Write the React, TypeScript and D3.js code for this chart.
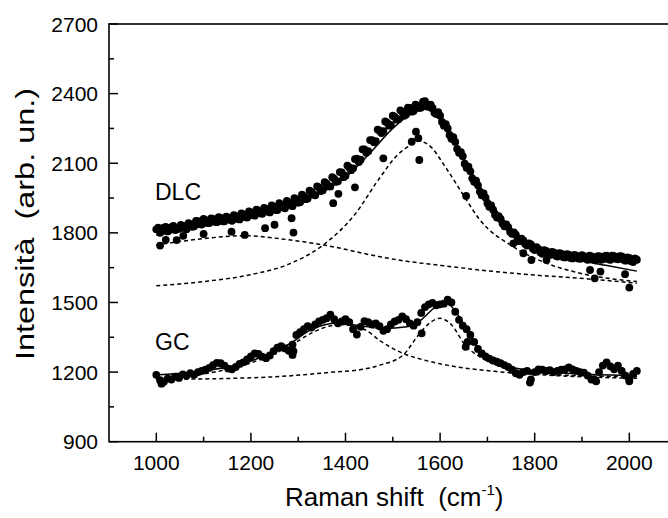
import React from "react";
import * as d3 from "d3";

// ---- Data ----
const xStart = 1000;
const xStep = 8;

// DLC, first pass of points (x = 1000 + 8i)
const dlcValues = [
  1815, 1800, 1822, 1806, 1825, 1812, 1818, 1830, 1815, 1838, 1828, 1850, 1836, 1855, 1842, 1860,
  1846, 1864, 1850, 1866, 1852, 1872, 1858, 1880, 1866, 1888, 1874, 1895, 1882, 1903, 1888, 1912,
  1898, 1922, 1906, 1930, 1915, 1945, 1932, 1958, 1948, 1975, 1962, 1995, 1984, 2012, 2000, 2034,
  2022, 2060, 2046, 2082, 2078, 2120, 2115, 2160, 2152, 2200, 2195, 2240, 2238, 2275, 2265, 2300,
  2290, 2322, 2310, 2338, 2325, 2348, 2340, 2368, 2350, 2338, 2312, 2305, 2262, 2250, 2205, 2192,
  2145, 2130, 2080, 2065, 2020, 2005, 1962, 1952, 1912, 1900, 1866, 1860, 1828, 1825, 1796, 1792,
  1764, 1768, 1745, 1750, 1726, 1730, 1710, 1722, 1705, 1716, 1698, 1710, 1694, 1706, 1690, 1702,
  1688, 1700, 1684, 1698, 1682, 1700, 1686, 1702, 1684, 1700, 1686, 1698, 1680, 1692, 1674, 1684,
];

// DLC, second pass of points (x = 1004 + 8i)
const dlcValues2 = [
  1822, 1808, 1826, 1812, 1830, 1815, 1834, 1820, 1842, 1826, 1852, 1838, 1860, 1842, 1862, 1848,
  1868, 1850, 1870, 1856, 1876, 1860, 1884, 1868, 1892, 1876, 1900, 1884, 1908, 1892, 1918, 1898,
  1928, 1910, 1938, 1920, 1950, 1930, 1965, 1945, 1982, 1965, 2000, 1980, 2018, 2000, 2040, 2020,
  2062, 2040, 2090, 2070, 2118, 2105, 2160, 2145, 2200, 2190, 2245, 2230, 2280, 2262, 2305, 2288,
  2328, 2305, 2340, 2322, 2352, 2338, 2365, 2345, 2352, 2318, 2320, 2278, 2268, 2222, 2212, 2162,
  2148, 2098, 2085, 2035, 2025, 1978, 1970, 1928, 1918, 1878, 1872, 1840, 1836, 1805, 1802, 1776,
  1775, 1752, 1755, 1733, 1738, 1716, 1725, 1708, 1718, 1702, 1712, 1696, 1708, 1692, 1705, 1690,
  1704, 1688, 1702, 1686, 1698, 1684, 1700, 1686, 1702, 1688, 1700, 1684, 1694, 1678, 1690,
];

const dlcOutliers: [number, number][] = [
  [1008, 1745], [1020, 1770], [1043, 1769], [1057, 1787], [1100, 1795], [1159, 1805], [1187, 1791],
  [1230, 1820], [1250, 1835], [1286, 1863], [1290, 1801], [1374, 1928], [1385, 1968], [1420, 1996],
  [1480, 2121], [1540, 2193], [1549, 2236], [1554, 2208], [1556, 2114], [1655, 1959], [1755, 1755],
  [1776, 1712], [1793, 1683], [1825, 1683], [1917, 1640], [1927, 1604], [1939, 1633], [1991, 1622],
  [2000, 1564],
];

// GC points (x = 1000 + 8i)
const gcValues = [
  1188, 1165, 1158, 1172, 1168, 1180, 1175, 1190, 1185, 1195, 1188, 1200, 1205, 1210, 1218, 1230,
  1240, 1238, 1228, 1215, 1212, 1222, 1235, 1242, 1255, 1268, 1280, 1278, 1266, 1260, 1272, 1290,
  1305, 1312, 1302, 1292, 1318, 1360, 1372, 1385, 1398, 1392, 1405, 1418, 1425, 1432, 1448, 1428,
  1410, 1418, 1428, 1415, 1385, 1362, 1395, 1420, 1415, 1405, 1410, 1398, 1378, 1385, 1405, 1418,
  1425, 1440, 1428, 1410, 1400, 1415, 1455, 1480, 1492, 1498, 1488, 1492, 1495, 1512, 1500, 1460,
  1425, 1400, 1385, 1360, 1330, 1300, 1280, 1268, 1258, 1250, 1245, 1238, 1230, 1222, 1210, 1195,
  1188, 1200, 1205, 1168, 1200, 1212, 1210, 1205, 1208, 1200, 1205, 1210, 1212, 1220, 1212, 1205,
  1200, 1198, 1185, 1168, 1165, 1200, 1228, 1242, 1225, 1212, 1228, 1205, 1185, 1168, 1192, 1205,
];

const gcOutliers: [number, number][] = [
  [1011, 1150], [1288, 1274], [1290, 1290], [1561, 1367], [1654, 1309], [1658, 1330],
  [1790, 1155], [1930, 1160], [2000, 1160],
];

const dlcFit: [number, number][] = [
  [1000, 1790], [1100, 1830], [1200, 1870], [1300, 1930], [1350, 1975], [1400, 2040], [1450, 2140],
  [1500, 2250], [1540, 2315], [1565, 2335], [1590, 2310], [1620, 2230], [1650, 2120], [1700, 1950],
  [1750, 1820], [1800, 1745], [1850, 1705], [1900, 1680], [1950, 1660], [2016, 1635],
];
const dlcBroad: [number, number][] = [
  [1000, 1748], [1100, 1775], [1184, 1788], [1260, 1775], [1353, 1748], [1473, 1697], [1512, 1683],
  [1600, 1660], [1684, 1640], [1800, 1618], [1896, 1604], [2016, 1583],
];
const dlcPeak: [number, number][] = [
  [1000, 1572], [1100, 1590], [1200, 1620], [1280, 1665], [1353, 1748], [1420, 1880], [1470, 2030],
  [1512, 2140], [1540, 2180], [1555, 2195], [1575, 2180], [1614, 2075], [1650, 1960], [1684, 1856],
  [1754, 1741], [1825, 1669], [1896, 1626], [2016, 1590],
];

const gcFit: [number, number][] = [
  [1000, 1188], [1100, 1205], [1200, 1248], [1280, 1320], [1330, 1385], [1380, 1410], [1430, 1400],
  [1480, 1388], [1530, 1395], [1560, 1425], [1590, 1480], [1615, 1495], [1640, 1440], [1670, 1330],
  [1700, 1265], [1750, 1222], [1800, 1205], [1900, 1192], [2016, 1185],
];
const gcD: [number, number][] = [
  [1000, 1170], [1100, 1192], [1200, 1240], [1280, 1310], [1330, 1370], [1370, 1400], [1400, 1405],
  [1425, 1395], [1445, 1378], [1473, 1335], [1522, 1280], [1570, 1250], [1614, 1230], [1720, 1202],
  [1825, 1187], [2016, 1173],
];
const gcG: [number, number][] = [
  [1000, 1168], [1233, 1178], [1374, 1200], [1445, 1215], [1473, 1230], [1522, 1274], [1557, 1367],
  [1580, 1415], [1600, 1432], [1621, 1410], [1656, 1309], [1684, 1266], [1755, 1209], [1861, 1187],
  [2016, 1180],
];

const xMajorTicks = [1000, 1200, 1400, 1600, 1800, 2000];
const xMinorTicks = [1100, 1300, 1500, 1700, 1900];
const yMajorTicks = [900, 1200, 1500, 1800, 2100, 2400, 2700];
const yMinorTicks = [1050, 1350, 1650, 1950, 2250, 2550];

// ---- Layout ----
const W = 668;
const H = 518;
const left = 109;
const top = 24;
const bottom = 441.7;
const right = 676.6;

const x = d3.scaleLinear().domain([900, 2100]).range([left, right]);
const y = d3.scaleLinear().domain([900, 2700]).range([bottom, top]);

const line = d3
  .line<[number, number]>()
  .x((d) => x(d[0]))
  .y((d) => y(d[1]))
  .curve(d3.curveMonotoneX);

const font = "'Liberation Sans', Arial, Helvetica, sans-serif";

export default function App() {
  const dlcPts = dlcValues.map((v, i) => [xStart + i * xStep, v] as [number, number]);
  const dlcPts2 = dlcValues2.map((v, i) => [xStart + 4 + i * xStep, v] as [number, number]);
  const gcPts = gcValues.map((v, i) => [xStart + i * xStep, v] as [number, number]);
  const dotR = 3.9;

  return (
    <svg
      width={W}
      height={H}
      style={{ position: "absolute", left: 0, top: 0, background: "#fff" }}
      fontFamily={font}
    >
      <rect x={0} y={0} width={W} height={H} fill="#fff" />
      {/* dashed components */}
      {[dlcBroad, dlcPeak, gcD, gcG].map((s, i) => (
        <path key={"d" + i} d={line(s) || ""} fill="none" stroke="#000" strokeWidth={1.5} strokeDasharray="4,3" />
      ))}
      {/* data dots */}
      {[...dlcPts, ...dlcPts2, ...dlcOutliers, ...gcPts, ...gcOutliers].map((p, i) => (
        <circle key={"p" + i} cx={x(p[0])} cy={y(p[1])} r={dotR} fill="#000" />
      ))}
      {/* fits */}
      {[dlcFit, gcFit].map((s, i) => (
        <path key={"f" + i} d={line(s) || ""} fill="none" stroke="#000" strokeWidth={1.5} />
      ))}

      {/* frame */}
      <rect x={left} y={top} width={right - left} height={bottom - top} fill="none" stroke="#000" strokeWidth={1.6} />

      {/* x ticks */}
      {xMajorTicks.map((t) => (
        <g key={"xt" + t}>
          <line x1={x(t)} x2={x(t)} y1={bottom} y2={bottom - 9} stroke="#000" strokeWidth={1.5} />
          <text x={x(t)} y={470} textAnchor="middle" fontSize={21}>
            {t}
          </text>
        </g>
      ))}
      {xMinorTicks.map((t) => (
        <line key={"xm" + t} x1={x(t)} x2={x(t)} y1={bottom} y2={bottom - 5} stroke="#000" strokeWidth={1.5} />
      ))}
      {/* y ticks */}
      {yMajorTicks.map((t) => (
        <g key={"yt" + t}>
          <line x1={left} x2={left + 9} y1={y(t)} y2={y(t)} stroke="#000" strokeWidth={1.5} />
          <text x={98} y={y(t) + 7.5} textAnchor="end" fontSize={21}>
            {t}
          </text>
        </g>
      ))}
      {yMinorTicks.map((t) => (
        <line key={"ym" + t} x1={left} x2={left + 5} y1={y(t)} y2={y(t)} stroke="#000" strokeWidth={1.5} />
      ))}

      {/* labels */}
      <text x={155} y={200} fontSize={23}>DLC</text>
      <text x={155} y={350} fontSize={23}>GC</text>

      <text x={285} y={506} fontSize={26} style={{ whiteSpace: "pre" }}>
        <tspan>{"Raman shift  (cm"}</tspan>
        <tspan fontSize={15} dy={-11}>{"-1"}</tspan>
        <tspan dy={11}>{")"}</tspan>
      </text>
      <text
        transform={`translate(34,360) rotate(-90)`}
        fontSize={26}
        textLength={272}
        lengthAdjust="spacingAndGlyphs"
        style={{ whiteSpace: "pre" }}
      >
        {"Intensità  (arb. un.)"}
      </text>
    </svg>
  );
}
